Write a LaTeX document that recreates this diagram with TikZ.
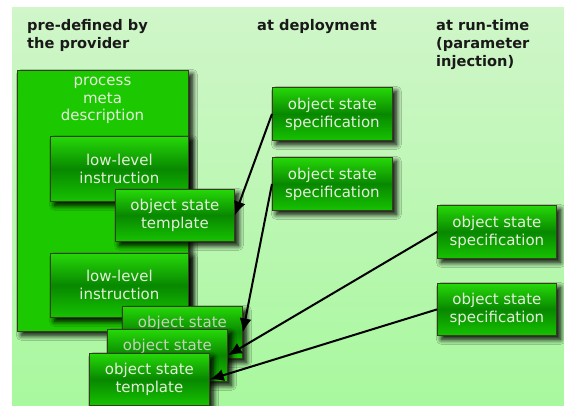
\documentclass[tikz,border=0pt]{standalone}
\usepackage{fontspec}
\setmainfont{DejaVu Sans}
\usetikzlibrary{shadows.blur,arrows.meta}
\definecolor{bgtop}{HTML}{D0F6C9}
\definecolor{bgbot}{HTML}{A8F89E}
\definecolor{gtop}{HTML}{26D808}
\definecolor{gmid}{HTML}{088800}
\definecolor{gbot}{HTML}{16C200}
\definecolor{edgec}{HTML}{34401A}
\definecolor{txt}{HTML}{E4EEDC}
\definecolor{txtb}{HTML}{C4D2BC}
\definecolor{bigg}{HTML}{1CC800}
\tikzset{
  shd/.style={blur shadow={shadow xshift=4pt, shadow yshift=-4pt, shadow blur radius=5pt, shadow blur steps=12, shadow opacity=100}},
  box/.style={shd, draw=edgec, line width=0.8pt, top color=gtop, bottom color=gbot, middle color=gmid,
    text=txt, align=center, inner sep=0pt, anchor=north west, font=\fontsize{15}{18}\selectfont},
  bigbox/.style={shd, draw=edgec, line width=0.8pt, fill=bigg, inner sep=0pt, anchor=north west},
  hdr/.style={font=\fontsize{14.6}{18}\selectfont\bfseries, text=black!90, align=left, inner sep=0pt, anchor=north west},
  lbl/.style={font=\fontsize{15}{17.5}\selectfont, text=txt, align=center, inner sep=0pt, anchor=north},
  arr/.style={-{Latex[length=14pt,width=12pt]}, line width=2pt, black}
}
\begin{document}
\begin{tikzpicture}[x=1pt,y=-1pt]
\useasboundingbox (0,0) rectangle (564,406);
\shade[top color=bgtop, bottom color=bgbot] (12,8) rectangle (564,406);
% headers
\node[hdr] (h1) at (27,19) {pre-defined by\\the provider};
\node[hdr] (h2) at (257,19) {at deployment};
\node[hdr] (h3) at (436,19) {at run-time\\(parameter\\injection)};
% big box
\node[bigbox, minimum width=171pt, minimum height=261pt] (pmd) at (17,70) {};
\node[lbl] (pmdt) at (102.5,77) {process\\meta\\description};
% inner boxes
\node[box, minimum width=138pt, minimum height=65pt] (ll1) at (50,136) {low-level\\instruction};
\node[box, minimum width=119pt, minimum height=52pt] (t1) at (115,189) {object state\\template};
\node[box, minimum width=138pt, minimum height=64pt] (ll2) at (50,253) {low-level\\instruction};
\node[box, text=txtb, minimum width=120pt, minimum height=52pt] (b1) at (122,306) {object state\\\phantom{template}};
\node[box, text=txtb, minimum width=120pt, minimum height=52pt] (b2) at (107,329) {object state\\\phantom{template}};
\node[box, minimum width=120pt, minimum height=52pt] (f) at (89,353) {object state\\template};
% specification boxes
\node[box, minimum width=120pt, minimum height=53pt] (s1) at (272,87) {object state\\specification};
\node[box, minimum width=120pt, minimum height=53pt] (s2) at (272,157) {object state\\specification};
\node[box, minimum width=119pt, minimum height=53pt] (s3) at (437,205) {object state\\specification};
\node[box, minimum width=119pt, minimum height=52pt] (s4) at (437,283) {object state\\specification};
% arrows
\draw[arr] (s1.west) -- (t1.east);
\draw[arr] (s2.west) -- (b1.east);
\draw[arr] (s3.west) -- (b2.east);
\draw[arr] (s4.west) -- (f.east);
\end{tikzpicture}
\end{document}
